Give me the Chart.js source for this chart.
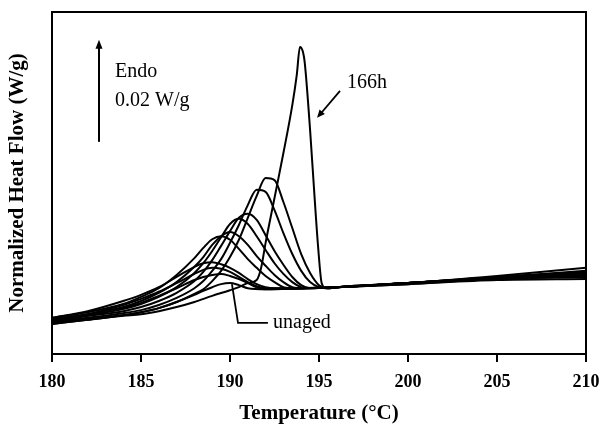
<!DOCTYPE html>
<html>
<head>
<meta charset="utf-8">
<script src="https://cdn.jsdelivr.net/npm/chart.js@4.4.0/dist/chart.umd.min.js"></script>
<style>
  html, body { margin: 0; padding: 0; background: #fff; }
  #dsc { display: block; }
</style>
</head>
<body>
<canvas id="dsc" width="603" height="424"></canvas>
<script>
// DSC traces: temperature (°C) and normalized heat flow (mW/g, arbitrary offset)
const tUnaged = [180, 182, 184, 185, 186, 187, 188, 188.5, 189, 189.5, 190, 190.5, 191, 192, 196, 200, 205, 210];
const hfUnaged = [5.9, 6.7, 7.6, 8.2, 9.0, 10.2, 11.6, 12.4, 13.1, 13.7, 13.9, 13.5, 12.9, 12.7, 13.1, 13.7, 14.5, 14.7];

const t1 = [180, 182, 184, 185, 186, 187, 188, 188.5, 189, 189.5, 190, 190.5, 191, 191.5, 192, 196, 200, 205, 210];
const hf1 = [6.3, 7.5, 9.0, 10.0, 11.4, 12.9, 14.5, 15.1, 15.5, 15.7, 15.3, 14.7, 13.9, 13.1, 12.7, 13.1, 13.7, 14.7, 15.1];

const t2 = [180, 182, 184, 185, 186, 187, 188, 188.5, 189, 189.5, 190, 190.5, 191, 191.5, 192, 196, 200, 205, 210];
const hf2 = [6.7, 7.8, 9.6, 10.8, 12.2, 13.9, 15.7, 16.5, 16.9, 16.7, 16.1, 15.1, 14.1, 13.3, 12.9, 13.1, 13.9, 14.7, 15.3];

const t3 = [180, 182, 184, 185, 186, 187, 188, 188.5, 189, 189.5, 190, 190.5, 191, 191.5, 192, 192.5, 196, 200, 205, 210];
const hf3 = [7.1, 8.4, 10.4, 11.6, 13.1, 15.1, 17.1, 17.8, 18.0, 17.6, 16.9, 15.9, 14.7, 13.7, 13.1, 12.9, 13.1, 13.9, 14.9, 15.3];

const t4 = [180, 182, 184, 185, 186, 187, 188, 188.5, 189, 189.5, 190, 190.5, 191, 191.5, 192, 192.5, 193, 193.5, 196, 200, 205, 210];
const hf4 = [7.1, 8.2, 9.8, 11.2, 12.9, 15.5, 18.8, 20.8, 22.5, 23.1, 22.4, 20.6, 18.6, 16.9, 15.3, 14.1, 13.1, 12.9, 13.1, 13.9, 14.9, 15.5];

const t5 = [180, 182, 184, 185, 186, 187, 188, 188.5, 189, 189.5, 190, 190.5, 191, 191.5, 192, 192.5, 193, 193.5, 194, 196, 200, 205, 210];
const hf5 = [6.9, 7.8, 9.2, 10.4, 12.0, 14.1, 17.1, 19.0, 21.4, 23.1, 23.9, 23.1, 21.4, 19.2, 17.3, 15.5, 14.1, 13.1, 12.9, 13.1, 13.9, 14.9, 15.7];

const t6 = [180, 182, 184, 185, 186, 187, 188, 188.5, 189, 189.5, 190, 190.5, 191, 191.5, 192, 192.5, 193, 193.5, 194, 194.5, 196, 200, 205, 210];
const hf6 = [6.7, 7.6, 8.8, 9.8, 11.2, 13.1, 15.9, 17.8, 20.2, 22.9, 25.5, 26.5, 25.5, 23.1, 20.4, 17.8, 15.7, 14.1, 13.1, 12.9, 13.1, 13.9, 14.9, 15.7];

const t7 = [180, 182, 184, 185, 186, 187, 188, 188.5, 189, 189.5, 190, 190.5, 191, 191.5, 192, 192.5, 193, 193.5, 194, 194.5, 196, 200, 205, 210];
const hf7 = [6.5, 7.5, 8.4, 9.2, 10.4, 12.0, 14.3, 16.1, 18.4, 21.2, 24.1, 26.7, 27.5, 26.3, 23.3, 20.2, 17.5, 15.1, 13.5, 12.9, 13.1, 13.9, 14.9, 15.9];

const t8 = [180, 182, 184, 185, 186, 187, 188, 188.5, 189, 189.5, 190, 190.5, 191, 191.5, 192, 192.5, 193, 193.5, 194, 194.5, 195, 195.5, 196, 200, 205, 210];
const hf8 = [6.3, 7.1, 8.0, 8.6, 9.6, 11.0, 12.9, 14.3, 16.3, 18.6, 21.8, 25.3, 29.2, 32.2, 31.8, 28.2, 23.7, 19.6, 16.3, 14.1, 13.1, 12.9, 13.1, 13.9, 15.1, 16.1];

const t9 = [180, 182, 184, 185, 186, 187, 188, 188.5, 189, 189.5, 190, 190.5, 191, 191.5, 192, 192.5, 193, 193.5, 194, 194.5, 195, 195.5, 196, 200, 205, 210];
const hf9 = [6.1, 6.9, 7.6, 8.2, 9.0, 10.2, 11.8, 12.7, 14.3, 16.3, 19.0, 22.4, 26.7, 31.0, 34.5, 34.1, 29.8, 24.7, 19.6, 15.9, 13.5, 12.9, 13.1, 13.9, 15.1, 16.3];

const t166 = [180, 182, 184, 185, 186, 187, 188, 189, 190, 190.5, 191, 191.5, 191.75, 192, 192.5, 193, 193.5, 193.75, 193.93, 194.1, 194.2, 194.5, 194.75, 194.95, 195.15, 195.4, 196, 200, 205, 210];
const hf166 = [5.9, 6.7, 7.5, 7.8, 8.4, 9.2, 10.2, 11.4, 12.5, 13.1, 13.9, 14.5, 16.9, 21.8, 30.6, 39.4, 48.8, 54.7, 60.2, 59.2, 57.1, 43.9, 30.8, 21.0, 13.9, 12.9, 13.1, 13.9, 15.3, 16.9];

const xTicks = [180, 185, 190, 195, 200, 205, 210];
const scaleBar = 20; // mW/g -> "0.02 W/g"

const curves = [
  ['unaged', tUnaged, hfUnaged],
  ['aged 1', t1, hf1],
  ['aged 2', t2, hf2],
  ['aged 3', t3, hf3],
  ['aged 4', t4, hf4],
  ['aged 5', t5, hf5],
  ['aged 6', t6, hf6],
  ['aged 7', t7, hf7],
  ['aged 8', t8, hf8],
  ['aged 9', t9, hf9],
  ['166h', t166, hf166]
];

const serif = "'Liberation Serif', 'Times New Roman', serif";

function arrow(ctx, x0, y0, x1, y1, len, half) {
  const ang = Math.atan2(y1 - y0, x1 - x0);
  ctx.beginPath();
  ctx.moveTo(x0, y0);
  ctx.lineTo(x1 - Math.cos(ang) * len * 0.6, y1 - Math.sin(ang) * len * 0.6);
  ctx.stroke();
  ctx.beginPath();
  ctx.moveTo(x1, y1);
  ctx.lineTo(x1 - Math.cos(ang) * len - Math.sin(ang) * half, y1 - Math.sin(ang) * len + Math.cos(ang) * half);
  ctx.lineTo(x1 - Math.cos(ang) * len + Math.sin(ang) * half, y1 - Math.sin(ang) * len - Math.cos(ang) * half);
  ctx.closePath();
  ctx.fill();
}

// frame, scale bar and labels
const annotations = {
  id: 'annotations',
  afterDatasetsDraw(chart) {
    const {ctx, chartArea: a} = chart;
    const x = chart.scales.x, y = chart.scales.y;
    ctx.save();
    ctx.strokeStyle = '#000';
    ctx.fillStyle = '#000';
    ctx.lineWidth = 2;
    ctx.strokeRect(a.left, a.top, a.right - a.left, a.bottom - a.top);

    // endotherm scale bar
    const bx = x.getPixelForValue(182.64);
    arrow(ctx, bx, y.getPixelForValue(41.6), bx, y.getPixelForValue(41.6 + scaleBar), 9, 3.5);

    ctx.font = '20px ' + serif;
    ctx.textAlign = 'left';
    ctx.textBaseline = 'alphabetic';
    ctx.fillText('Endo', x.getPixelForValue(183.54), y.getPixelForValue(54.3));
    ctx.fillText('0.02 W/g', x.getPixelForValue(183.54), y.getPixelForValue(48.6));

    ctx.fillText('166h', x.getPixelForValue(196.57), y.getPixelForValue(52.2));
    ctx.lineWidth = 1.8;
    arrow(ctx, x.getPixelForValue(196.18), y.getPixelForValue(51.6),
      x.getPixelForValue(194.89), y.getPixelForValue(46.3), 8, 3.5);

    ctx.fillText('unaged', x.getPixelForValue(192.42), y.getPixelForValue(5.1));
    ctx.beginPath();
    ctx.moveTo(x.getPixelForValue(192.13), y.getPixelForValue(6.1));
    ctx.lineTo(x.getPixelForValue(190.45), y.getPixelForValue(6.1));
    ctx.lineTo(x.getPixelForValue(190.11), y.getPixelForValue(13.7));
    ctx.stroke();
    ctx.restore();
  }
};

new Chart(document.getElementById('dsc'), {
  type: 'line',
  data: {
    datasets: curves.map(c => ({
      label: c[0],
      data: c[1].map((t, i) => ({x: t, y: c[2][i]})),
      borderColor: '#000',
      borderWidth: 2,
      pointRadius: 0,
      fill: false,
      cubicInterpolationMode: 'monotone'
    }))
  },
  options: {
    responsive: false,
    animation: false,
    devicePixelRatio: 1,
    layout: { padding: { top: 12, right: 17, left: 0, bottom: 0 } },
    plugins: { legend: { display: false }, tooltip: { enabled: false } },
    scales: {
      x: {
        type: 'linear',
        min: 180,
        max: 210,
        afterBuildTicks: s => { s.ticks = xTicks.map(v => ({value: v})); },
        afterFit: s => { s.height = 70; s.paddingLeft = 0; s.paddingRight = 0; },
        ticks: { color: '#000', padding: 10, font: { family: serif, size: 18, weight: 'bold' } },
        grid: { drawOnChartArea: false, drawTicks: true, tickLength: 8, color: '#000', lineWidth: 2 },
        border: { display: false },
        title: {
          display: true,
          text: 'Temperature (°C)',
          color: '#000',
          padding: { top: 0, bottom: 0 },
          font: { family: serif, size: 21, weight: 'bold', lineHeight: 1 }
        }
      },
      y: {
        min: 0,
        max: 67.06,
        afterFit: s => { s.width = 52; },
        ticks: { display: false },
        grid: { display: false },
        border: { display: false },
        title: {
          display: true,
          text: 'Normalized Heat Flow (W/g)',
          color: '#000',
          padding: { top: 7, bottom: 0 },
          font: { family: serif, size: 21, weight: 'bold', lineHeight: 1 }
        }
      }
    }
  },
  plugins: [annotations]
});
</script>
</body>
</html>
